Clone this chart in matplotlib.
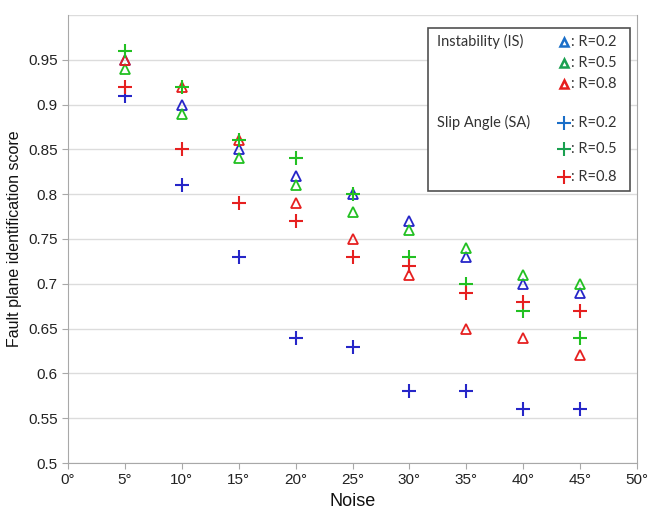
import numpy as np
import matplotlib.pyplot as plt
from matplotlib.patches import Rectangle
from matplotlib.lines import Line2D

plt.rcParams['font.family'] = ['Liberation Sans', 'DejaVu Sans']

noise = [5, 10, 15, 20, 25, 30, 35, 40, 45]

# Instability (IS)
is_r02 = [0.95, 0.90, 0.85, 0.82, 0.80, 0.77, 0.73, 0.70, 0.69]
is_r05 = [0.94, 0.89, 0.84, 0.81, 0.78, 0.76, 0.74, 0.71, 0.70]
is_r08 = [0.95, 0.92, 0.86, 0.79, 0.75, 0.71, 0.65, 0.64, 0.62]

# Slip Angle (SA)
sa_r02 = [0.91, 0.81, 0.73, 0.64, 0.63, 0.58, 0.58, 0.56, 0.56]
sa_r05 = [0.96, 0.92, 0.86, 0.84, 0.80, 0.73, 0.70, 0.67, 0.64]
sa_r08 = [0.92, 0.85, 0.79, 0.77, 0.73, 0.72, 0.69, 0.68, 0.67]

ratios = ['R=0.2', 'R=0.5', 'R=0.8']
colors = ['#2626c8', '#22c022', '#e62020']
legend_colors = ['#1a6ec8', '#1aa050', '#e61e1e']

fig = plt.figure(figsize=(6.49, 5.16), dpi=100)
ax = fig.add_axes([0.1048, 0.1027, 0.8767, 0.8683])

for ys, c in zip([is_r02, is_r05, is_r08], colors):
    ax.plot(noise, ys, linestyle='none', marker='^', markersize=7,
            markerfacecolor='none', markeredgecolor=c, markeredgewidth=1.3)
for ys, c in zip([sa_r02, sa_r05, sa_r08], colors):
    ax.plot(noise, ys, linestyle='none', marker='+', markersize=10,
            markeredgecolor=c, markeredgewidth=1.5)

ax.set_xlim(0, 50)
ax.set_ylim(0.5, 1.0)
ax.set_xticks(np.arange(0, 51, 5))
ax.set_xticklabels([f'{v}°' for v in range(0, 51, 5)])
ax.set_yticks(np.arange(0.5, 0.96, 0.05))
ax.set_yticklabels(['0.5', '0.55', '0.6', '0.65', '0.7', '0.75', '0.8', '0.85', '0.9', '0.95'])
ax.grid(axis='y', color='#dcdcdc', linewidth=1)
ax.axhline(1.0, color='#dcdcdc', linewidth=1)
ax.set_axisbelow(True)
for s in ['left', 'bottom', 'right']:
    ax.spines[s].set_color('#a8a8a8')
ax.spines['top'].set_visible(False)
ax.tick_params(axis='both', colors='#a8a8a8', labelcolor='#222222', labelsize=11, length=4)
ax.set_xlabel('Noise', fontsize=13, color='#111111')
ax.set_ylabel('Fault plane identification score', fontsize=11.5, color='#111111')

# custom legend box
lx0, lx1, ly0, ly1 = 0.633, 0.988, 0.607, 0.971
ax.add_patch(Rectangle((lx0, ly0), lx1 - lx0, ly1 - ly0, transform=ax.transAxes,
                       facecolor='white', edgecolor='#505050', linewidth=1.2, zorder=5))
lfont = ['Lato', 'DejaVu Sans']
row_y = [0.940, 0.893, 0.846, 0.759, 0.701, 0.638]
ax.text(0.648, row_y[0], 'Instability (IS)', transform=ax.transAxes, fontsize=10.5,
        family=lfont, va='center', color='#333333', zorder=6)
ax.text(0.648, row_y[3], 'Slip Angle (SA)', transform=ax.transAxes, fontsize=10.5,
        family=lfont, va='center', color='#333333', zorder=6)
for i, (r, c) in enumerate(zip(ratios, legend_colors)):
    ax.add_line(Line2D([0.872], [row_y[i]], transform=ax.transAxes, marker='^', markersize=6,
                       markerfacecolor='none', markeredgecolor=c, markeredgewidth=1.8, zorder=6))
    ax.text(0.884, row_y[i], ': ' + r, transform=ax.transAxes, fontsize=10.5, family=lfont,
            va='center', color='#333333', zorder=6)
    ax.add_line(Line2D([0.872], [row_y[i + 3]], transform=ax.transAxes, marker='+', markersize=10,
                       markeredgecolor=c, markeredgewidth=1.5, zorder=6))
    ax.text(0.884, row_y[i + 3], ': ' + r, transform=ax.transAxes, fontsize=10.5, family=lfont,
            va='center', color='#333333', zorder=6)

fig.savefig('out.png', dpi=100)
